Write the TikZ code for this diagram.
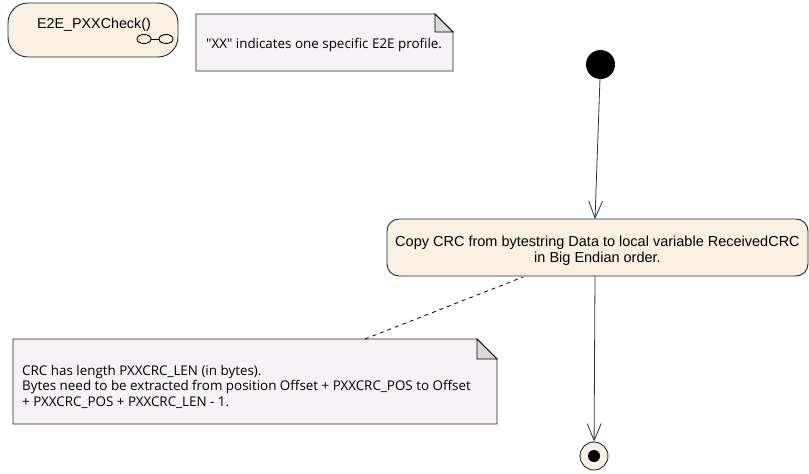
\documentclass[tikz,border=0pt]{standalone}
\usepackage{fontspec}
\setmainfont{Liberation Sans}
\newfontfamily\notefont{Open Sans}
\usetikzlibrary{arrows.meta}
\definecolor{actfill}{HTML}{FAF0E1}
\definecolor{notefill}{HTML}{F5F1F5}
\definecolor{foldfill}{HTML}{D9D9D9}
\begin{document}
\begin{tikzpicture}[x=1pt,y=-1pt,
  act/.style={draw=black!85, line width=0.9pt, fill=actfill, rounded corners=12pt},
  notebox/.style={draw=black!85, line width=0.9pt, fill=notefill},
  flow/.style={draw=black!80, line width=0.8pt, -{Straight Barb[length=17pt,width=14pt,line width=0.8pt]}},
  notetext/.style={font=\notefont\fontsize{13.4}{15.5}\selectfont, align=left, anchor=base west, inner sep=0pt},
  acttext/.style={font=\fontsize{14.5}{16}\selectfont, align=center, anchor=base, inner sep=0pt}
]
\useasboundingbox (0,0) rectangle (809,474);
% activity frame
\draw[act, rounded corners=20pt] (8,3) rectangle (178,57);
\node[font=\fontsize{14.3}{16}\selectfont, inner sep=0pt, anchor=base] (title) at (94,28) {E2E\_PXXCheck()};
\draw[line width=0.9pt] (144,39) ellipse (7pt and 4.5pt);
\draw[line width=0.9pt] (166,39) ellipse (7pt and 4.5pt);
\draw[line width=0.9pt] (151,39) -- (159,39);
% note 1
\draw[notebox] (196,14) -- (435,14) -- (453,32) -- (453,71) -- (196,71) -- cycle;
\draw[line width=0.8pt, fill=foldfill] (435,14) -- (435,32) -- (453,32) -- cycle;
\node[notetext] (n1) at (206,48) {"XX" indicates one specific E2E profile.};
% initial
\node[circle, fill=black, minimum size=29pt, inner sep=0pt] (init) at (600.5,64.5) {};
% action (base anchor = baseline of last line)
\draw[act] (387,219) rectangle (808,276);
\node[acttext] (act) at (597.5,262) {Copy CRC from bytestring Data to local variable ReceivedCRC\\in Big Endian order.};
\coordinate (actTop) at (595,219);
\coordinate (actBot) at (595,276);
\coordinate (actNote) at (523,277);
% final
\node[circle, draw=black!85, line width=0.9pt, fill=actfill, minimum size=28pt, inner sep=0pt] (fin) at (594,456) {};
\node[circle, fill=black, minimum size=12pt, inner sep=0pt] at (fin.center) {};
% note 2
\draw[notebox] (13,339) -- (477,339) -- (497,359) -- (497,424) -- (13,424) -- cycle;
\draw[line width=0.8pt, fill=foldfill] (477,339) -- (477,359) -- (497,359) -- cycle;
\node[notetext] (n2) at (22,406) {CRC has length PXXCRC\_LEN (in bytes).\\Bytes need to be extracted from position Offset + PXXCRC\_POS to Offset\\+ PXXCRC\_POS + PXXCRC\_LEN - 1.};
\coordinate (n2top) at (365,339);
% connectors
\draw[flow] (init) -- (actTop);
\draw[flow] (actBot) -- (fin);
\draw[dashed, line width=0.8pt, dash pattern=on 4pt off 4pt] (n2top) -- (actNote);
\end{tikzpicture}
\end{document}
